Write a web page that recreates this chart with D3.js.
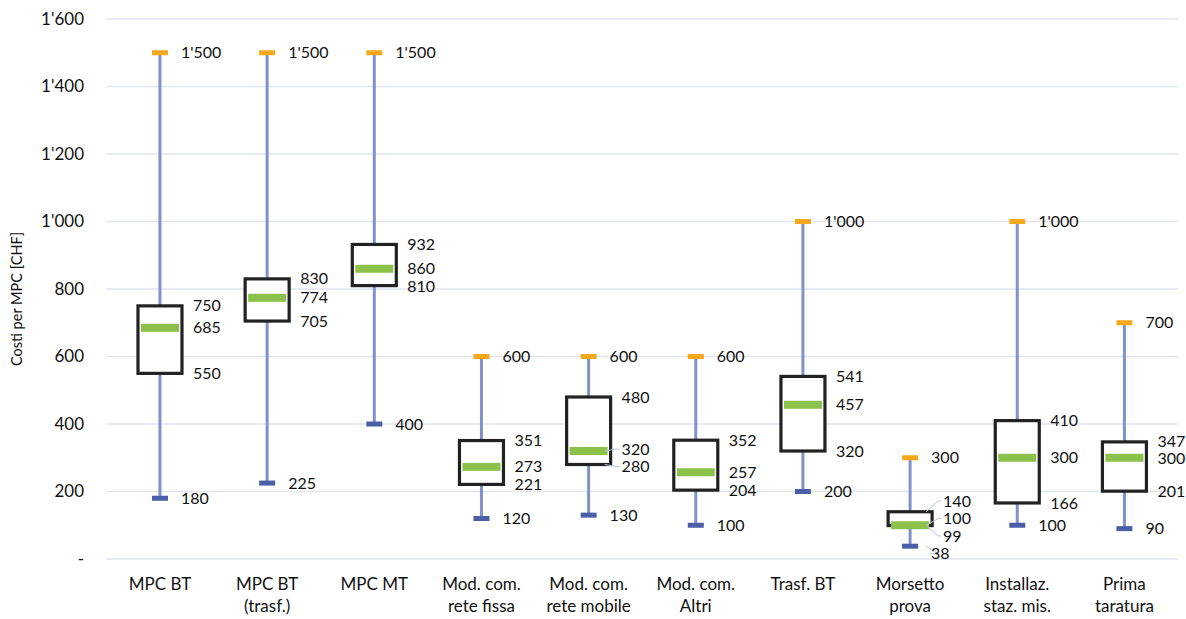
<!DOCTYPE html>
<html><head><meta charset="utf-8">
<script src="https://cdn.jsdelivr.net/npm/d3@7"></script>
<style>body{margin:0;background:#fff}svg{display:block}text{font-family:Lato,"Open Sans",sans-serif;fill:#111}</style>
</head><body><svg id="c" width="1186" height="619"></svg>
<script>
const categories = [["MPC BT"],["MPC BT","(trasf.)"],["MPC MT"],["Mod. com.","rete fissa"],["Mod. com.","rete mobile"],["Mod. com.","Altri"],["Trasf. BT"],["Morsetto","prova"],["Installaz.","staz. mis."],["Prima","taratura"]];
const minVals = [180,225,400,120,130,100,200,38,100,90];
const q1Vals = [550,705,810,221,280,204,320,99,166,201];
const medianVals = [685,774,860,273,320,257,457,100,300,300];
const q3Vals = [750,830,932,351,480,352,541,140,410,347];
const maxVals = [1500,1500,1500,600,600,600,1000,300,1000,700];
const yTicks = [0,200,400,600,800,1000,1200,1400,1600];
const yTitle = "Costi per MPC [CHF]";

(function(){
const svg = d3.select("#c");
const pLeft = 106.4, pRight = 1178, pTop = 19, pBottom = 559;
const x = d3.scaleBand().domain(d3.range(categories.length)).range([pLeft,pRight]);
const y = d3.scaleLinear().domain([0,1600]).range([pBottom,pTop]);
const fmt = v => v === 0 ? "-" : d3.format(",")(v).replace(/,/g,"'");

svg.append("g").selectAll("line").data(yTicks).join("line")
  .attr("x1",pLeft).attr("x2",pRight).attr("y1",d=>y(d)).attr("y2",d=>y(d))
  .attr("stroke","#e1e5ee").attr("stroke-width",1.3);
const yAxis = d3.axisLeft(y).tickValues(yTicks).tickFormat(fmt).tickSize(0).tickPadding(0);
const ga = svg.append("g").attr("transform",`translate(84,0)`).call(yAxis);
ga.select(".domain").remove();
ga.selectAll("text").style("font-family","Lato,sans-serif").style("font-size","17px").attr("fill","#111");
svg.append("text").attr("transform",`translate(22,${(pTop+pBottom)/2+10}) rotate(-90)`)
  .attr("text-anchor","middle").style("font-size","14.5px").text(yTitle);

const xl = svg.append("g").selectAll("text").data(categories).join("text")
  .attr("text-anchor","middle").style("font-size","17px")
  .attr("x",(d,i)=>x(i)+x.bandwidth()/2).attr("y",590);
xl.selectAll("tspan").data(d=>d).join("tspan")
  .attr("x",function(){return d3.select(this.parentNode).attr("x");})
  .attr("dy",(d,j)=>j===0?0:22).text(d=>d);

const bw = 44, capW = 16, gap = 17.5;
const data = categories.map((c,i)=>({i,min:minVals[i],q1:q1Vals[i],med:medianVals[i],q3:q3Vals[i],max:maxVals[i]}));
const g = svg.append("g");
data.forEach(d=>{
  const cx = x(d.i)+x.bandwidth()/2;
  g.append("line").attr("x1",cx).attr("x2",cx).attr("y1",y(d.max)).attr("y2",y(d.min))
    .attr("stroke","#7f92cb").attr("stroke-width",3);
  g.append("rect").attr("x",cx-bw/2).attr("y",y(d.q3)).attr("width",bw).attr("height",y(d.q1)-y(d.q3))
    .attr("fill","#fff").attr("stroke","#222").attr("stroke-width",3.2);
  g.append("rect").attr("x",cx-bw/2+3).attr("y",y(d.med)-4).attr("width",bw-6).attr("height",8)
    .attr("fill","#8cc14c");
  g.append("rect").attr("x",cx-capW/2).attr("y",y(d.max)-2.5).attr("width",capW).attr("height",5).attr("fill","#f5a81c");
  g.append("rect").attr("x",cx-capW/2).attr("y",y(d.min)-2.5).attr("width",capW).attr("height",5).attr("fill","#4a5fa6");
  const labs = [
    {v:d.max,dx:21},{v:d.q3,dx:33},{v:d.med,dx:33},{v:d.q1,dx:33},{v:d.min,dx:21}
  ].map(l=>({...l,y0:y(l.v)}));
  labs.sort((a,b)=>a.y0-b.y0);
  let groups = labs.map(l=>({items:[l],c:l.y0}));
  let changed = true;
  while(changed){
    changed=false;
    for(let k=1;k<groups.length;k++){
      const a=groups[k-1], b=groups[k];
      const aBot = a.c + (a.items.length-1)*gap/2;
      const bTop = b.c - (b.items.length-1)*gap/2;
      if(bTop - aBot < gap){
        const items=a.items.concat(b.items);
        const c=d3.mean(items,t=>t.y0);
        groups.splice(k-1,2,{items,c});
        changed=true;break;
      }
    }
  }
  groups.forEach(gr=>gr.items.forEach((l,j)=>{l.y=gr.c+(j-(gr.items.length-1)/2)*gap;}));
  labs.forEach(l=>{
    if(Math.abs(l.y-l.y0)>2){
      g.append("polyline").attr("points",`${cx+bw/2-6},${l.y0} ${cx+bw/2+6},${l.y} ${cx+l.dx-2},${l.y}`)
        .attr("fill","none").attr("stroke","#b8c2de").attr("stroke-width",1);
    }
    g.append("text").attr("x",cx+l.dx).attr("y",l.y).attr("dy","0.35em").style("font-size","16px").text(fmt(l.v));
  });
});
})();
</script></body></html>
